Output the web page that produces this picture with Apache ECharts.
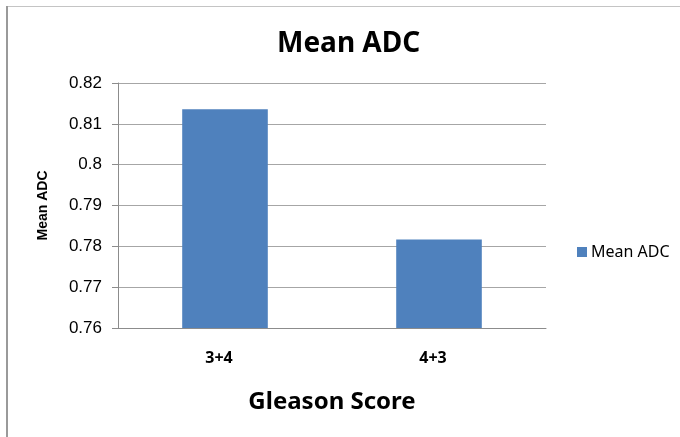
<!DOCTYPE html>
<html>
<head>
<meta charset="utf-8">
<style>
  html, body { margin: 0; padding: 0; background: #ffffff; }
  #chart { width: 680px; height: 437px; }
</style>
<script src="https://cdn.jsdelivr.net/npm/echarts@6/dist/echarts.min.js"></script>
</head>
<body>
<div id="chart"></div>
<script>
// Gleason score groups and their mean ADC values
const categories = ['3+4', '4+3'];
const meanAdc = [0.8136, 0.7817];
const seriesName = 'Mean ADC';

// Value axis range and spacing
const yMin = 0.76;
const yMax = 0.82;
const yStep = 0.01;

const chart = echarts.init(document.getElementById('chart'), null, { renderer: 'canvas' });

chart.setOption({
  backgroundColor: '#ffffff',
  animation: false,
  title: {
    text: 'Mean ADC',
    left: 272,
    top: 25,
    textStyle: {
      fontFamily: 'Noto Sans',
      fontWeight: 'bold',
      fontSize: 28,
      color: '#000000'
    }
  },
  legend: {
    data: [seriesName],
    left: 572,
    top: 239,
    itemWidth: 10,
    itemHeight: 10,
    itemGap: 5,
    icon: 'rect',
    textStyle: {
      fontFamily: 'Noto Sans',
      fontSize: 16,
      color: '#000000',
      padding: [0, 0, 0, -1]
    }
  },
  grid: {
    left: 118,
    right: 134,
    top: 83,
    bottom: 109,
    containLabel: false
  },
  xAxis: {
    type: 'category',
    data: categories,
    name: 'Gleason Score',
    nameLocation: 'middle',
    nameGap: 62,
    nameTextStyle: {
      fontFamily: 'Noto Sans',
      fontWeight: 'bold',
      fontSize: 24,
      color: '#000000'
    },
    axisLine: { show: true, lineStyle: { color: '#8c8c8c', width: 1 } },
    axisTick: { show: false },
    axisLabel: {
      fontFamily: 'Noto Sans',
      fontWeight: 'bold',
      fontSize: 16,
      color: '#000000',
      margin: 22,
      padding: [0, 12, 0, 0]
    },
    splitLine: { show: false }
  },
  yAxis: {
    type: 'value',
    min: yMin,
    max: yMax,
    interval: yStep,
    name: 'Mean ADC',
    nameLocation: 'middle',
    nameGap: 68,
    nameRotate: 90,
    nameTextStyle: {
      fontFamily: 'Liberation Sans',
      fontWeight: 'bold',
      fontSize: 14,
      color: '#000000'
    },
    axisLine: { show: true, lineStyle: { color: '#8c8c8c', width: 1 } },
    axisTick: { show: true, length: 6, inside: false, lineStyle: { color: '#8c8c8c' } },
    axisLabel: {
      fontFamily: 'Liberation Sans',
      fontSize: 17,
      color: '#000000',
      margin: 16,
      formatter: function (v) { return String(parseFloat(v.toFixed(2))); }
    },
    splitLine: { show: true, lineStyle: { color: '#a6a6a6', width: 1 } }
  },
  series: [{
    name: seriesName,
    type: 'bar',
    data: meanAdc,
    barWidth: '40%',
    itemStyle: { color: '#4f81bd' }
  }],
  graphic: [
    {
      type: 'rect',
      shape: { x: 6, y: 6, width: 674, height: 1 },
      style: { fill: '#c4c4c4' },
      silent: true
    },
    {
      type: 'rect',
      shape: { x: 6, y: 6, width: 2, height: 431 },
      style: { fill: '#9a9a9a' },
      silent: true
    }
  ]
});
</script>
</body>
</html>
